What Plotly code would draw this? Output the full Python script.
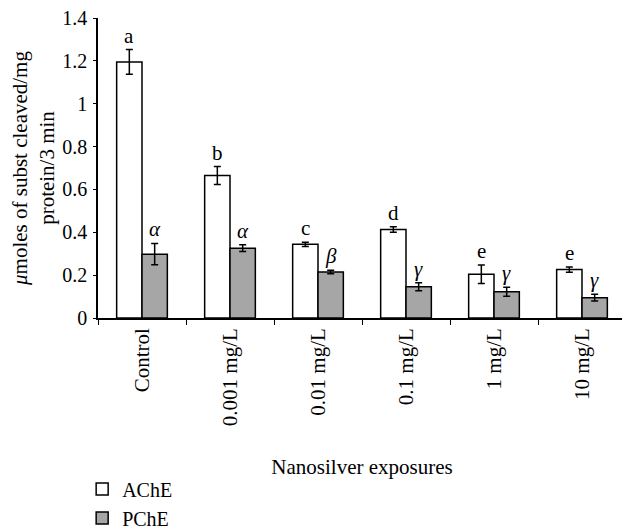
import plotly.graph_objects as go

categories = ["Control", "0.001 mg/L", "0.01 mg/L", "0.1 mg/L", "1 mg/L", "10 mg/L"]
ache = [1.195, 0.665, 0.344, 0.413, 0.204, 0.226]
ache_err = [0.058, 0.042, 0.010, 0.013, 0.043, 0.012]
pche = [0.298, 0.326, 0.215, 0.146, 0.123, 0.095]
pche_err = [0.050, 0.016, 0.008, 0.019, 0.021, 0.016]
ache_letters = ["a", "b", "c", "d", "e", "e"]
pche_letters = ["α", "α", "β", "γ", "γ", "γ"]
y_tickvals = [0, 0.2, 0.4, 0.6, 0.8, 1.0, 1.2, 1.4]
y_ticktext = ["0", "0.2", "0.4", "0.6", "0.8", "1", "1.2", "1.4"]

FONT = "Liberation Serif"
bargap = 0.424
bar_w = (1 - bargap) / 2

fig = go.Figure()
fig.add_trace(go.Bar(
    x=categories, y=ache, name="AChE",
    marker=dict(color="white", line=dict(color="black", width=1.5)),
    error_y=dict(type="data", array=ache_err, color="black", thickness=1.5, width=3.5),
))
fig.add_trace(go.Bar(
    x=categories, y=pche, name="PChE",
    marker=dict(color="#a6a6a6", line=dict(color="black", width=1.5)),
    error_y=dict(type="data", array=pche_err, color="black", thickness=1.5, width=3.5),
))

annotations = []
for i in range(len(categories)):
    annotations.append(dict(
        x=i - bar_w / 2, y=ache[i] + ache_err[i], xref="x", yref="y",
        text=ache_letters[i], showarrow=False, yanchor="bottom",
        font=dict(family=FONT, size=21, color="black"),
    ))
    annotations.append(dict(
        x=i + bar_w / 2, y=pche[i] + pche_err[i], xref="x", yref="y",
        text="<i>" + pche_letters[i] + "</i>", showarrow=False, yanchor="bottom",
        font=dict(family=FONT, size=21, color="black"),
    ))

fig.update_layout(
    width=622, height=545,
    margin=dict(l=90, r=4, t=10, b=235, autoexpand=False),
    paper_bgcolor="white", plot_bgcolor="white",
    barmode="group", bargap=bargap, bargroupgap=0,
    font=dict(family=FONT, size=21, color="black"),
    annotations=annotations,
    showlegend=True,
    legend=dict(
        orientation="v", x=-0.03, xanchor="left", y=-0.505, yanchor="top",
        font=dict(family=FONT, size=20), bgcolor="rgba(0,0,0,0)",
        tracegroupgap=0,
    ),
    xaxis=dict(
        type="category", tickangle=-90, tickson="boundaries",
        ticks="outside", ticklen=5, tickcolor="black", tickwidth=1,
        showline=True, linecolor="black", linewidth=1.5,
        showgrid=False, automargin=False,
        tickfont=dict(family=FONT, size=21),
        title=dict(text="Nanosilver exposures", font=dict(family=FONT, size=21), standoff=34),
    ),
    yaxis=dict(
        range=[0, 1.4], tickvals=y_tickvals, ticktext=y_ticktext,
        ticks="outside", ticklen=3, tickcolor="black", tickwidth=1,
        showline=True, linecolor="black", linewidth=1.5,
        showgrid=False, zeroline=False, automargin=False,
        ticklabelstandoff=2, ticklabeloverflow="allow",
        tickfont=dict(family=FONT, size=20),
        title=dict(text="<i>μ</i>moles of subst cleaved/mg<br>protein/3 min",
                   font=dict(family=FONT, size=21), standoff=6),
    ),
)

fig.write_html("out.html")
